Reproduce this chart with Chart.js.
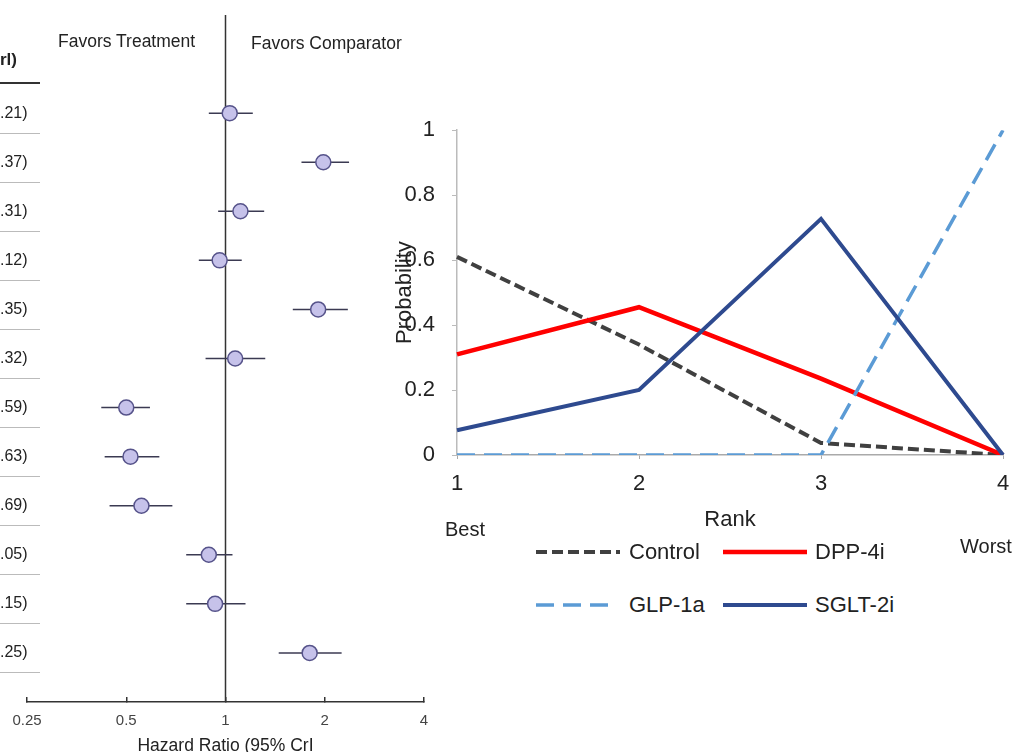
<!DOCTYPE html>
<html>
<head>
<meta charset="utf-8">
<title>Hazard ratios and rank probabilities</title>
<script src="https://cdn.jsdelivr.net/npm/chart.js@4.4.1/dist/chart.umd.min.js"></script>
<style>
  html, body { margin: 0; padding: 0; background: #fff; }
  body {
    width: 1012px; height: 752px; overflow: hidden; position: relative;
    font-family: "Liberation Sans", Arial, sans-serif; color: #222;
  }
  .abs { position: absolute; white-space: nowrap; }
  #forestWrap { position: absolute; left: 0; top: 0; }
  #rankWrap { position: absolute; left: 380px; top: 100px; }
  .rule { position: absolute; left: 0; width: 40px; }
</style>
</head>
<body>
<div id="forestWrap"><canvas id="forestChart" width="440" height="760"></canvas></div>
<div id="rankWrap"><canvas id="rankChart" width="642" height="440"></canvas></div>
<div id="overlay"></div>

<script>
// ---- forest plot (left) ----
const forestTailText = ['.21)', '.37)', '.31)', '.12)', '.35)', '.32)', '.59)', '.63)', '.69)', '.05)', '.15)', '.25)'];
const hrPoint = [1.03, 1.98, 1.11, 0.96, 1.91, 1.07, 0.50, 0.515, 0.556, 0.89, 0.93, 1.80];
const ciLow   = [0.89, 1.70, 0.95, 0.83, 1.60, 0.87, 0.42, 0.43, 0.445, 0.76, 0.76, 1.45];
const ciHigh  = [1.21, 2.37, 1.31, 1.12, 2.35, 1.32, 0.59, 0.63, 0.69, 1.05, 1.15, 2.25];
const forestTicks = [0.25, 0.5, 1, 2, 4];

// ---- rank probabilities (right) ----
const rankLabels = ['1', '2', '3', '4'];
const controlProb = [0.61, 0.34, 0.037, 0];
const dppProb     = [0.31, 0.455, 0.235, 0];
const glpProb     = [0, 0, 0, 1];
const sgltProb    = [0.076, 0.20, 0.727, 0];

const FONT = '"Liberation Sans", Arial, sans-serif';
Chart.defaults.font.family = FONT;
Chart.defaults.animation = false;

const overlay = document.getElementById('overlay');
function addText(txt, left, centerY, size, extra) {
  const d = document.createElement('div');
  d.className = 'abs';
  d.textContent = txt;
  d.style.left = left + 'px';
  d.style.top = (centerY - size * 0.6) + 'px';
  d.style.fontSize = size + 'px';
  d.style.lineHeight = (size * 1.2) + 'px';
  if (extra) Object.assign(d.style, extra);
  overlay.appendChild(d);
  return d;
}

// table fragment on the far left
addText('rl)', 0, 60, 17, { fontWeight: 'bold' });
const headRule = document.createElement('div');
headRule.className = 'rule';
headRule.style.top = '82px';
headRule.style.height = '2px';
headRule.style.background = '#333';
overlay.appendChild(headRule);
forestTailText.forEach((txt, i) => {
  addText(txt, 0, 113 + i * 49, 16);
  const r = document.createElement('div');
  r.className = 'rule';
  r.style.top = (133 + i * 49) + 'px';
  r.style.height = '1px';
  r.style.background = '#bbb';
  overlay.appendChild(r);
});
addText('Favors Treatment', 58, 41, 17.5);
addText('Favors Comparator', 251, 43, 17.5);

const forestRows = hrPoint.map((_, i) => i + 1);
const ciSets = forestRows.map((row, i) => ({
  data: [{ x: ciLow[i], y: row }, { x: ciHigh[i], y: row }],
  showLine: true,
  borderColor: '#3b3a52',
  borderWidth: 1.5,
  pointRadius: 0,
  order: 2
}));

// keep the plot area exactly where the layout padding puts it
const noEdgePadding = (s) => { s.paddingLeft = 0; s.paddingRight = 0; };

new Chart(document.getElementById('forestChart'), {
  type: 'scatter',
  data: {
    datasets: [
      {
        data: forestRows.map((row, i) => ({ x: hrPoint[i], y: row })),
        pointRadius: 7.5,
        pointBackgroundColor: '#c6c2ea',
        pointBorderColor: '#56538a',
        pointBorderWidth: 1.5,
        order: 0
      },
      ...ciSets,
      {
        data: [{ x: 1, y: -1 }, { x: 1, y: 13 }],
        showLine: true,
        borderColor: '#333',
        borderWidth: 1.5,
        pointRadius: 0,
        order: 3
      }
    ]
  },
  options: {
    responsive: false,
    layout: { padding: { left: 27, right: 16, top: 15, bottom: 0 } },
    plugins: { legend: { display: false }, tooltip: { enabled: false } },
    scales: {
      x: {
        type: 'logarithmic',
        min: 0.25,
        max: 4,
        afterBuildTicks: (s) => { s.ticks = forestTicks.map((v) => ({ value: v })); },
        afterFit: (s) => { s.height = 58; noEdgePadding(s); },
        ticks: { callback: (v) => String(v), font: { size: 15 }, color: '#444', padding: 15, maxRotation: 0 },
        grid: { drawOnChartArea: false, tickLength: -5, color: '#333', lineWidth: 1.5 },
        border: { color: '#333', width: 1.5 },
        title: {
          display: true,
          text: 'Hazard Ratio (95% CrI',
          font: { size: 17.5 },
          color: '#222',
          padding: { top: 0, bottom: 3 }
        }
      },
      y: { type: 'linear', reverse: true, min: -1, max: 13, display: false }
    }
  }
});

// ---- rank probability chart ----
const rankChart = new Chart(document.getElementById('rankChart'), {
  type: 'line',
  data: {
    labels: rankLabels,
    datasets: [
      { label: 'Control', data: controlProb, borderColor: '#404040', borderWidth: 4, borderDash: [11, 5], order: 3 },
      { label: 'DPP-4i', data: dppProb, borderColor: '#ff0000', borderWidth: 4.5, order: 2 },
      { label: 'GLP-1a', data: glpProb, borderColor: '#5b9bd5', borderWidth: 3.5, borderDash: [18, 9], order: 1 },
      { label: 'SGLT-2i', data: sgltProb, borderColor: '#2e4a8f', borderWidth: 4, order: 0 }
    ]
  },
  options: {
    responsive: false,
    layout: { padding: { left: 0, right: 19, top: 27, bottom: 0 } },
    elements: { point: { radius: 0 }, line: { tension: 0 } },
    plugins: { legend: { display: false }, tooltip: { enabled: false } },
    scales: {
      x: {
        type: 'category',
        offset: false,
        afterFit: (s) => { s.height = 85; noEdgePadding(s); },
        ticks: { font: { size: 22 }, color: '#222', padding: 12, maxRotation: 0 },
        grid: { drawOnChartArea: false, tickLength: 4, color: '#aaa' },
        border: { color: '#aaa', width: 1.5 },
        title: { display: true, text: 'Rank', font: { size: 22 }, color: '#222', padding: { top: 0, bottom: 6.8 } }
      },
      y: {
        min: 0,
        max: 1,
        afterFit: (s) => { s.width = 77; },
        ticks: {
          stepSize: 0.2,
          font: { size: 22 },
          color: '#222',
          padding: 17,
          callback: (v) => String(Math.round(v * 10) / 10)
        },
        grid: { drawOnChartArea: false, tickLength: 5, color: '#bbb' },
        border: { color: '#bbb', width: 1.5 },
        title: { display: true, text: 'Probability', font: { size: 22 }, color: '#222', padding: { top: 11.8, bottom: 0 } }
      }
    }
  }
});

addText('Best', 445, 529, 20);
addText('Worst', 960, 546, 20);

// legend: two columns, two rows, built from the chart's datasets
const legendCols = [536, 723];
const legendRows = [552, 605];
rankChart.data.datasets.forEach((ds, i) => {
  const col = i % 2;
  const row = Math.floor(i / 2);
  const w = ds.label === 'GLP-1a' ? 74 : 84;
  const svgNS = 'http://www.w3.org/2000/svg';
  const svg = document.createElementNS(svgNS, 'svg');
  svg.setAttribute('width', w);
  svg.setAttribute('height', 10);
  svg.style.position = 'absolute';
  svg.style.left = legendCols[col] + 'px';
  svg.style.top = (legendRows[row] - 5) + 'px';
  const ln = document.createElementNS(svgNS, 'line');
  ln.setAttribute('x1', 0);
  ln.setAttribute('y1', 5);
  ln.setAttribute('x2', w);
  ln.setAttribute('y2', 5);
  ln.setAttribute('stroke', ds.borderColor);
  ln.setAttribute('stroke-width', ds.borderWidth);
  if (ds.borderDash) ln.setAttribute('stroke-dasharray', ds.borderDash.join(' '));
  svg.appendChild(ln);
  overlay.appendChild(svg);
  addText(ds.label, legendCols[col] + (col === 0 ? 93 : 92), legendRows[row], 22);
});
</script>
</body>
</html>
